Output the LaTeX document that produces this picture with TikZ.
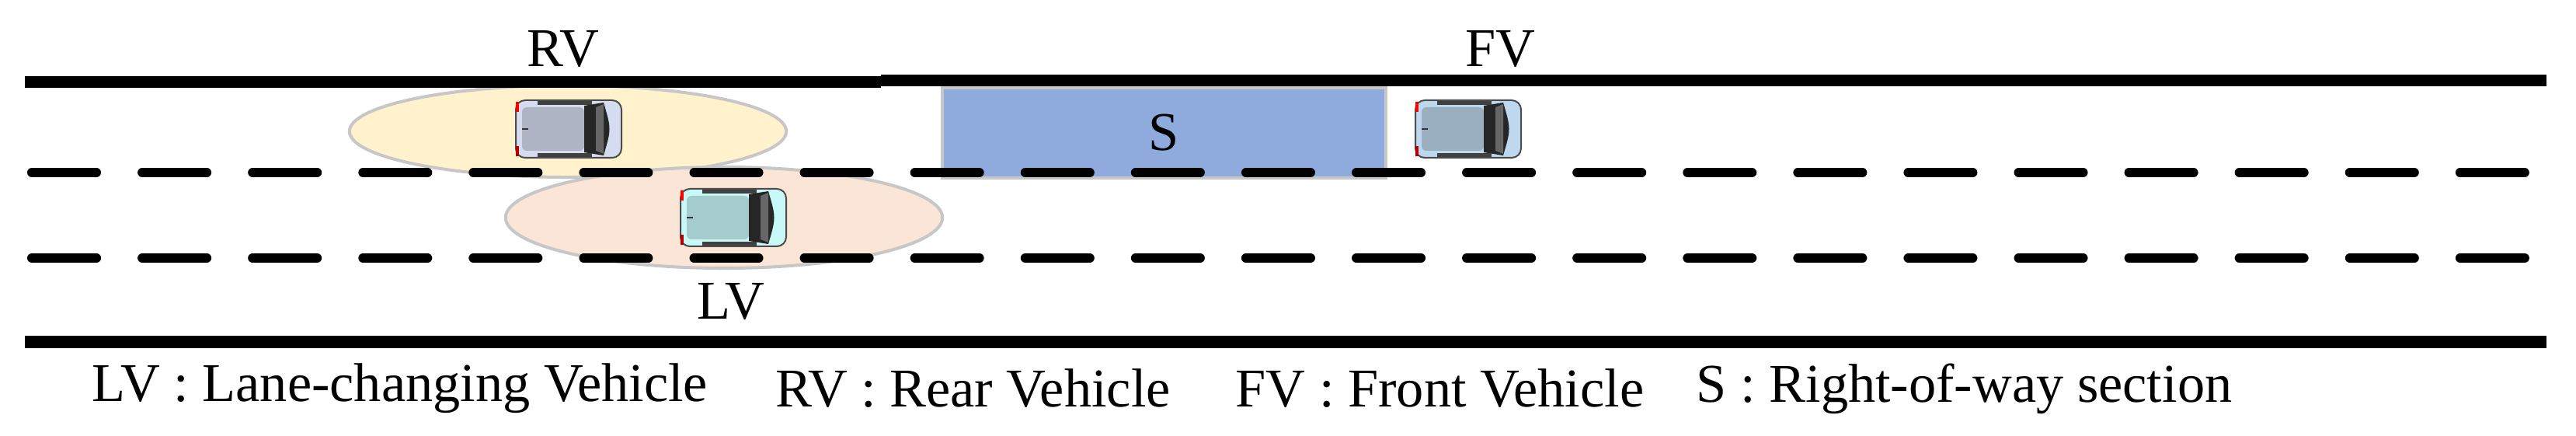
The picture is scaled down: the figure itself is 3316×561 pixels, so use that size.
\documentclass[tikz,border=0pt]{standalone}
\usetikzlibrary{shapes.geometric}
\usepackage{fontspec}
\setmainfont{Liberation Serif}
\definecolor{rvb}{RGB}{214,220,240}\definecolor{rvr}{RGB}{174,180,196}
\definecolor{fvb}{RGB}{189,215,238}\definecolor{fvr}{RGB}{154,175,192}
\definecolor{lvb}{RGB}{200,248,248}\definecolor{lvr}{RGB}{164,204,204}
\definecolor{rvz}{RGB}{255,242,204}\definecolor{lvz}{RGB}{251,229,214}
\definecolor{sfill}{RGB}{143,170,220}
\begin{document}
\begin{tikzpicture}[x=0.01cm,y=-0.01cm,
  road/.style={line width=0.15cm},
  lane/.style={line width=0.12cm,dash pattern=on 0.83cm off 0.59cm,line cap=round},
  zone/.style={draw=black!22,line width=0.04cm,inner sep=0pt},
  lbl/.style={font=\fontsize{20}{24}\selectfont,inner sep=0pt},
  pics/car/.style n args={2}{code={
    \fill[#1,rounded corners=0.12cm] (-68,-37) rectangle (68,37);
    \draw[black!70,line width=0.02cm,rounded corners=0.12cm] (-68,-37) rectangle (68,37);
    \fill[#2,rounded corners=0.06cm] (-60,-28) rectangle (20,28);
    \fill[black!85] (20,-30) -- (45,-34) .. controls (55,0) .. (45,34) -- (20,30) -- cycle;
    \fill[black!60] (35,-28) -- (45,-32) -- (45,32) -- (35,28) -- cycle;
    \fill[black!75] (-40,-36) rectangle (30,-31);
    \fill[black!75] (-40,31) rectangle (30,36);
    \fill[red] (-68,-35) rectangle (-64,-22);
    \fill[red!70!black] (-68,22) rectangle (-64,35);
    \draw[black!80,line width=0.015cm] (-60,0) -- (-52,0);
  }}]
\useasboundingbox (0,0) rectangle (3316,561);
% zones
\node[zone,ellipse,minimum width=5.62cm,minimum height=1.18cm,fill=rvz] (rvzone) at (731,169) {};
\node[zone,ellipse,minimum width=5.62cm,minimum height=1.3cm,fill=lvz] (lvzone) at (932,280) {};
\node[zone,rectangle,minimum width=5.71cm,minimum height=1.16cm,fill=sfill,lbl] (s) at (1498.5,171) {S};
% road edges
\coordinate (tl) at (32,106); \coordinate (tm) at (1134,106);
\coordinate (tm2) at (1134,104); \coordinate (tr) at (3278,104);
\coordinate (bl) at (32,440); \coordinate (br) at (3278,440);
\draw[road] (tl) -- (tm);
\draw[road] (tm2) -- (tr);
\draw[road] (bl) -- (br);
% lane lines
\coordinate (l1a) at (41,222); \coordinate (l1b) at (3278,222);
\coordinate (l2a) at (41,332); \coordinate (l2b) at (3278,332);
\draw[lane] (l1a) -- (l1b);
\draw[lane] (l2a) -- (l2b);
% cars
\pic at (732,166) {car={rvb}{rvr}};
\pic at (1890,166) {car={fvb}{fvr}};
\pic at (944,280) {car={lvb}{lvr}};
% labels
\node[lbl] (rv) at (725,63) {RV};
\node[lbl] (fv) at (1931,63) {FV};
\node[lbl] (lv) at (941,388) {LV};
\node[lbl,anchor=west] (k1) at (118,500) {LV : Lane-changing Vehicle};
\node[lbl,anchor=west] (k2) at (998,500) {RV : Rear Vehicle};
\node[lbl,anchor=west] (k3) at (1590,500) {FV : Front Vehicle};
\node[lbl,anchor=west] (k4) at (2183,500) {S : Right-of-way section};
\end{tikzpicture}
\end{document}
